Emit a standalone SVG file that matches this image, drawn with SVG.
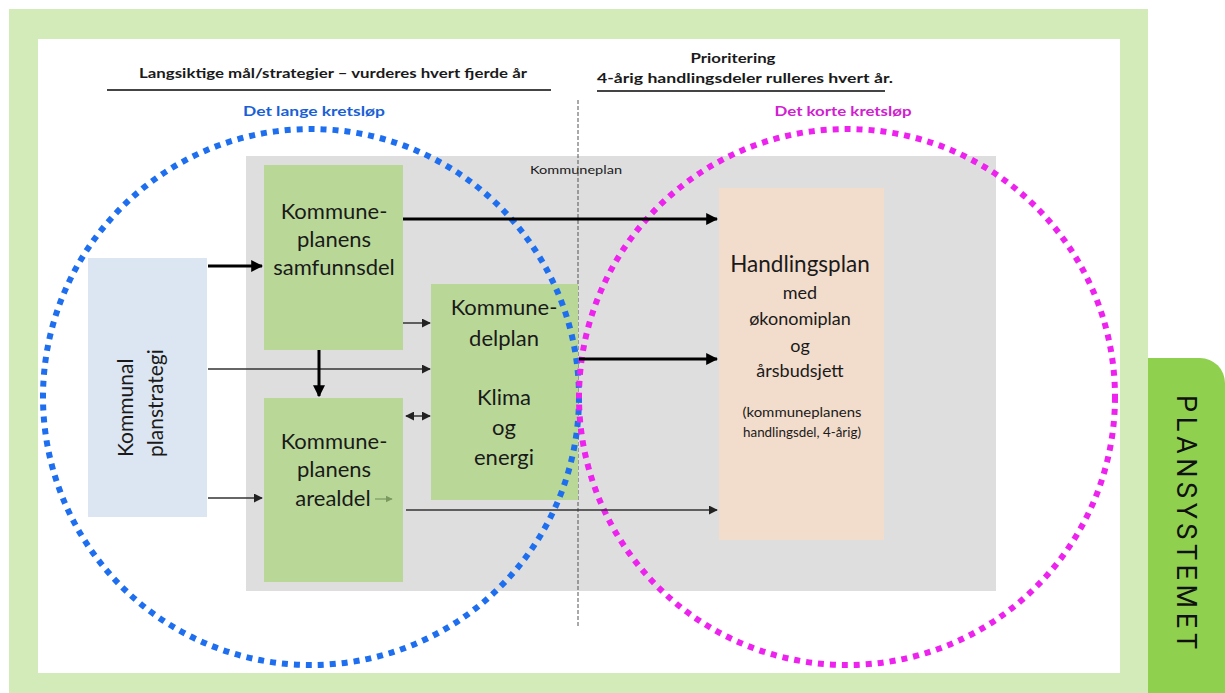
<svg xmlns="http://www.w3.org/2000/svg" width="1225" height="693" viewBox="0 0 1225 693">
<defs>
<style>
.t{font-family:Lato,"Liberation Sans",sans-serif;fill:#1a1a1a}
.box{font-size:22px;text-anchor:middle}
.hdr{font-size:14px;font-weight:bold;text-anchor:middle}
.thick{stroke:#000;stroke-width:3;fill:none}
.thin{stroke:#333;stroke-width:1.5;fill:none}
</style>
<marker id="ah" viewBox="0 0 10 10" refX="9" refY="5" markerWidth="4" markerHeight="4" orient="auto-start-reverse" markerUnits="strokeWidth"><path d="M0,0 L10,5 L0,10 z" fill="#000"/></marker>
<marker id="ahs" viewBox="0 0 10 10" refX="9" refY="5" markerWidth="6" markerHeight="6" orient="auto-start-reverse" markerUnits="strokeWidth"><path d="M0,0 L10,5 L0,10 z" fill="#222"/></marker>
<marker id="ahg" viewBox="0 0 10 10" refX="9" refY="5" markerWidth="6" markerHeight="6" orient="auto" markerUnits="strokeWidth"><path d="M0,0 L10,5 L0,10 z" fill="#7a9a60"/></marker>
</defs>
<rect x="0" y="0" width="1225" height="693" fill="#fff"/>
<g id="frame">
<rect x="9" y="9" width="1139" height="684" fill="#d2ebb8"/>
<rect x="38" y="39" width="1082" height="634" fill="#fff"/>
<path d="M1148,358 H1200 A25,25 0 0 1 1225,383 V693 H1148 Z" fill="#8fd14f"/>
<text transform="translate(1177,522) rotate(90)" font-family="Roboto,'Liberation Sans',sans-serif" font-size="27" text-anchor="middle" textLength="254" lengthAdjust="spacing" fill="#111">PLANSYSTEMET</text>
</g>
<g id="headers">
<text class="t hdr" x="333" y="78" textLength="388" lengthAdjust="spacingAndGlyphs">Langsiktige mål/strategier – vurderes hvert fjerde år</text>
<line x1="107" y1="90" x2="551" y2="90" stroke="#444" stroke-width="2"/>
<text class="t hdr" x="733" y="63" textLength="85" lengthAdjust="spacingAndGlyphs">Prioritering</text>
<text class="t hdr" x="745" y="83" textLength="296" lengthAdjust="spacingAndGlyphs">4-årig handlingsdeler rulleres hvert  år.</text>
<line x1="597" y1="91" x2="885" y2="91" stroke="#444" stroke-width="2"/>
<text class="t hdr" x="314" y="116" textLength="142" lengthAdjust="spacingAndGlyphs" style="fill:#1a5fd6">Det lange kretsløp</text>
<text class="t hdr" x="843" y="116" textLength="137" lengthAdjust="spacingAndGlyphs" style="fill:#d020d0">Det korte kretsløp</text>
</g>
<g id="kommuneplan">
<rect x="246" y="156" width="750" height="435" fill="#dedede"/>
<text class="t" x="576" y="174" font-size="11" text-anchor="middle" textLength="92" lengthAdjust="spacingAndGlyphs">Kommuneplan</text>
</g>
<line x1="578" y1="100" x2="578" y2="628" stroke="#555" stroke-width="1" stroke-dasharray="4 2"/>
<g id="planstrategi">
<rect x="88" y="258" width="119" height="259" fill="#dce6f2"/>
<text class="t" transform="translate(133,457) rotate(-90)" font-size="21">Kommunal</text>
<text class="t" transform="translate(163,457) rotate(-90)" font-size="21">planstrategi</text>
</g>
<g id="samfunnsdel">
<rect x="264" y="165" width="139" height="185" fill="#b9d898"/>
<text class="t box" x="334" y="219">Kommune-</text>
<text class="t box" x="334" y="247">planens</text>
<text class="t box" x="334" y="275">samfunnsdel</text>
</g>
<g id="arealdel">
<rect x="264" y="398" width="139" height="184" fill="#b9d898"/>
<text class="t box" x="334" y="449">Kommune-</text>
<text class="t box" x="334" y="477">planens</text>
<text class="t box" x="333" y="506">arealdel</text>
</g>
<g id="delplan">
<rect x="431" y="284" width="147" height="216" fill="#b9d898"/>
<text class="t box" x="504" y="315">Kommune-</text>
<text class="t box" x="504" y="346">delplan</text>
<text class="t box" x="504" y="405">Klima</text>
<text class="t box" x="504" y="435">og</text>
<text class="t box" x="504" y="465">energi</text>
</g>
<g id="handlingsplan">
<rect x="719" y="188" width="165" height="352" fill="#f2dccb"/>
<text class="t" x="800" y="272" font-size="22.5" text-anchor="middle">Handlingsplan</text>
<text class="t" x="800" y="299" font-size="18" text-anchor="middle">med</text>
<text class="t" x="800" y="325" font-size="18" text-anchor="middle">økonomiplan</text>
<text class="t" x="800" y="352" font-size="18" text-anchor="middle">og</text>
<text class="t" x="800" y="377" font-size="18" text-anchor="middle">årsbudsjett</text>
<text class="t" x="802" y="417" font-size="13" text-anchor="middle" textLength="119" lengthAdjust="spacingAndGlyphs">(kommuneplanens</text>
<text class="t" x="802" y="437" font-size="13" text-anchor="middle" textLength="118" lengthAdjust="spacingAndGlyphs">handlingsdel, 4-årig)</text>
</g>
<g id="circles" fill="none" stroke-width="6" stroke-dasharray="6 6">
<circle cx="311" cy="397" r="268" stroke="#1e6ef0"/>
<circle cx="847" cy="397" r="268" stroke="#ee22ee"/>
</g>
<g id="connectors">
<line class="thick" x1="403" y1="219" x2="717" y2="219" marker-end="url(#ah)"/>
<line class="thick" x1="208" y1="266" x2="262" y2="266" marker-end="url(#ah)"/>
<line class="thin" x1="403" y1="323" x2="430" y2="323" marker-end="url(#ahs)"/>
<line class="thin" x1="208" y1="369" x2="430" y2="369" marker-end="url(#ahs)"/>
<line class="thick" x1="319" y1="350" x2="319" y2="396" marker-end="url(#ah)"/>
<line class="thin" x1="406" y1="416" x2="430" y2="416" marker-start="url(#ahs)" marker-end="url(#ahs)"/>
<line class="thin" x1="208" y1="498" x2="262" y2="498" stroke-width="2" marker-end="url(#ahs)"/>
<line x1="375" y1="499" x2="392" y2="499" stroke="#7a9a60" stroke-width="1.2" marker-end="url(#ahg)"/>
<line class="thin" x1="406" y1="510" x2="717" y2="510" marker-end="url(#ahs)"/>
<line class="thick" x1="579" y1="359" x2="717" y2="359" marker-end="url(#ah)"/>
</g>
</svg>
